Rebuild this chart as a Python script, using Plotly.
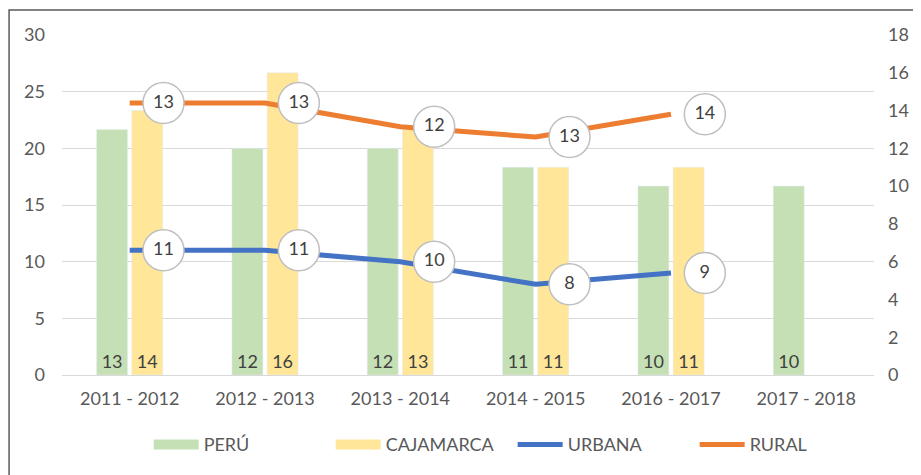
import plotly.graph_objects as go

categories = ["2011 - 2012", "2012 - 2013", "2013 - 2014", "2014 - 2015", "2016 - 2017", "2017 - 2018"]
peru = [13, 12, 12, 11, 10, 10]
cajamarca = [14, 16, 13, 11, 11, None]
urbana = [11, 11, 10, 8, 9]
urbana_labels = ["11", "11", "10", "8", "9"]
rural = [24.0, 24.0, 21.9, 21.0, 23.0]
rural_labels = ["13", "13", "12", "13", "14"]

xpos = list(range(len(categories)))
line_x = xpos[:len(urbana)]
label_offset = 0.25

FONT = "Lato, 'Open Sans', sans-serif"
GREY_TXT = "#595959"
GREEN = "#C5E0B4"
YELLOW = "#FFE699"
BLUE = "#4472C4"
ORANGE = "#ED7D31"

fig = go.Figure()

fig.add_trace(go.Bar(
    x=xpos, y=peru, name="PERÚ", marker=dict(color=GREEN),
    text=[str(v) for v in peru], textposition="inside", insidetextanchor="start",
    textfont=dict(color="#404040", size=18, family=FONT), yaxis="y", showlegend=False,
))
fig.add_trace(go.Bar(
    x=xpos, y=cajamarca, name="CAJAMARCA", marker=dict(color=YELLOW),
    text=[str(v) if v is not None else "" for v in cajamarca], textposition="inside",
    insidetextanchor="start",
    textfont=dict(color="#404040", size=18, family=FONT), yaxis="y", showlegend=False,
))
# legend swatches for bars (wide rectangles)
fig.add_trace(go.Scatter(x=[None], y=[None], name="PERÚ", mode="lines",
                         line=dict(color=GREEN, width=14), yaxis="y2"))
fig.add_trace(go.Scatter(x=[None], y=[None], name="CAJAMARCA", mode="lines",
                         line=dict(color=YELLOW, width=14), yaxis="y2"))
fig.add_trace(go.Scatter(
    x=line_x, y=urbana, name="URBANA", mode="lines",
    line=dict(color=BLUE, width=5), yaxis="y2",
))
fig.add_trace(go.Scatter(
    x=line_x, y=rural, name="RURAL", mode="lines",
    line=dict(color=ORANGE, width=5), yaxis="y2",
))
for vals, labs in [(urbana, urbana_labels), (rural, rural_labels)]:
    fig.add_trace(go.Scatter(
        x=[v + label_offset for v in line_x], y=vals, mode="markers+text",
        text=labs, textposition="middle center",
        textfont=dict(color="#404040", size=18, family=FONT),
        marker=dict(size=41, color="white", line=dict(color="#BFBFBF", width=1.5)),
        showlegend=False, hoverinfo="skip", yaxis="y2", cliponaxis=False,
    ))

W, H = 913, 467
L, R, T, B = 54, 42, 27, 99
pw, ph = W - L - R, H - T - B

fig.update_layout(
    width=W, height=H,
    margin=dict(l=L, r=R, t=T, b=B),
    paper_bgcolor="white", plot_bgcolor="white",
    font=dict(family=FONT, size=18, color=GREY_TXT),
    barmode="group", bargap=0.48, bargroupgap=0.12,
    showlegend=True,
    legend=dict(orientation="h", x=0.555, xanchor="center", y=-0.205, yanchor="middle",
                font=dict(size=18, color=GREY_TXT), itemwidth=45,
                entrywidth=122, traceorder="normal"),
    xaxis=dict(range=[-0.5, 5.5], tickmode="array", tickvals=xpos, ticktext=categories,
               showgrid=False, zeroline=False, showline=False,
               ticks="", ticklabelstandoff=11,
               tickfont=dict(size=18, color=GREY_TXT)),
    yaxis=dict(side="right", range=[0, 18], dtick=2, showgrid=False, zeroline=False,
               showline=False, ticks="", ticklabelstandoff=13,
               tickfont=dict(size=18, color=GREY_TXT)),
    yaxis2=dict(side="left", overlaying="y", range=[0, 30], dtick=5, showgrid=True,
                gridcolor="#D9D9D9", gridwidth=1, zeroline=True, zerolinecolor="#D9D9D9",
                zerolinewidth=1, showline=False, ticks="", ticklabelstandoff=16,
                tickfont=dict(size=18, color=GREY_TXT)),
    shapes=[dict(type="rect", xref="paper", yref="paper",
                 x0=(0.75 - L) / pw, x1=(W + 20 - L) / pw,
                 y0=-(B + 20) / ph, y1=(ph + T - 2) / ph,
                 line=dict(color="#595959", width=1.5), fillcolor="rgba(0,0,0,0)",
                 layer="above")],
)

fig.write_html("out.html")
